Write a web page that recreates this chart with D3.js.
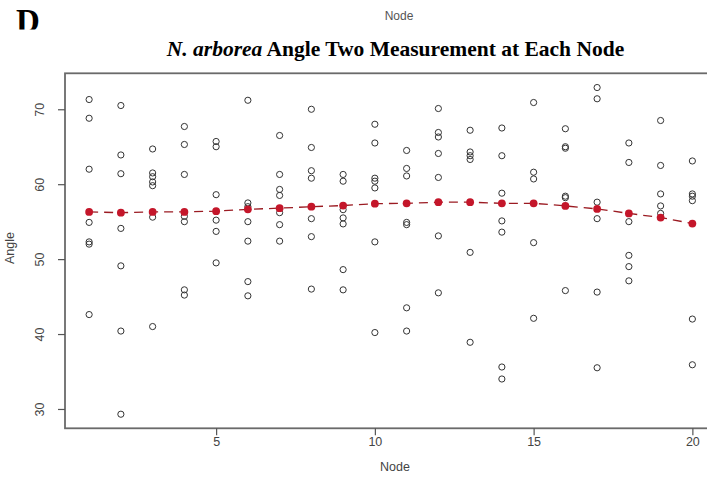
<!DOCTYPE html>
<html>
<head>
<meta charset="utf-8">
<script src="https://cdn.jsdelivr.net/npm/d3@7"></script>
<style>
  html, body { margin: 0; padding: 0; background: #fff; }
  svg { display: block; }
</style>
</head>
<body>
<svg id="chart" width="707" height="502"></svg>
<script>
// Node positions along the stem
const nodes = [1, 2, 3, 4, 5, 6, 7, 8, 9, 10, 11, 12, 13, 14, 15, 16, 17, 18, 19, 20];

// Angle two measurements recorded at each node (one list per node)
const anglesNode1  = [71.3, 68.8, 62.0, 54.9, 52.3, 52.0, 42.6];
const anglesNode2  = [70.5, 63.9, 61.4, 54.1, 49.1, 40.4, 29.3];
const anglesNode3  = [64.7, 61.5, 61.0, 60.3, 59.8, 55.6, 41.0];
const anglesNode4  = [67.7, 65.3, 61.3, 55.7, 55.0, 45.9, 45.2];
const anglesNode5  = [65.7, 65.0, 58.6, 55.2, 53.7, 49.5];
const anglesNode6  = [71.2, 57.5, 57.0, 55.0, 52.4, 47.0, 45.1];
const anglesNode7  = [66.5, 61.3, 59.3, 58.5, 56.2, 54.6, 52.4];
const anglesNode8  = [70.0, 64.9, 61.8, 60.8, 55.4, 53.0, 46.0];
const anglesNode9  = [61.3, 60.4, 56.6, 55.5, 54.7, 48.6, 45.9];
const anglesNode10 = [68.0, 65.5, 60.8, 60.4, 59.5, 52.3, 40.2];
const anglesNode11 = [64.5, 62.1, 61.1, 54.9, 54.6, 43.5, 40.4];
const anglesNode12 = [70.1, 66.9, 66.3, 64.1, 60.9, 53.1, 45.5];
const anglesNode13 = [67.2, 64.3, 63.8, 63.3, 50.9, 38.9];
const anglesNode14 = [67.5, 63.8, 58.8, 55.1, 53.6, 35.6, 34.0];
const anglesNode15 = [70.9, 61.6, 60.7, 52.2, 42.1];
const anglesNode16 = [67.4, 65.0, 64.8, 58.4, 58.2, 45.8];
const anglesNode17 = [72.9, 71.4, 57.6, 55.4, 45.6, 35.5];
const anglesNode18 = [65.5, 62.9, 55.0, 50.5, 49.0, 47.1];
const anglesNode19 = [68.5, 62.5, 58.7, 57.1, 56.1];
const anglesNode20 = [63.1, 58.7, 58.4, 57.8, 42.0, 35.9];

const anglesByNode = [
  anglesNode1, anglesNode2, anglesNode3, anglesNode4, anglesNode5,
  anglesNode6, anglesNode7, anglesNode8, anglesNode9, anglesNode10,
  anglesNode11, anglesNode12, anglesNode13, anglesNode14, anglesNode15,
  anglesNode16, anglesNode17, anglesNode18, anglesNode19, anglesNode20
];

// Fitted trend value at each node
const fitted = [56.3, 56.2, 56.3, 56.3, 56.4, 56.65, 56.8, 57.0, 57.15, 57.4,
                57.45, 57.6, 57.6, 57.45, 57.45, 57.1, 56.7, 56.1, 55.55, 54.75];

const xTicks = [5, 10, 15, 20];
const yTicks = [30, 40, 50, 60, 70];

const svg = d3.select("#chart");

// Plot region: the frame runs past the right edge of the page
const x = d3.scaleLinear().domain([0.24, 20.76]).range([65, 716.5]);
const y = d3.scaleLinear().domain([27.42, 74.8]).range([428.3, 73.3]);

// Panel letter, clipped at its lower edge
svg.append("defs").append("clipPath").attr("id", "letterClip")
  .append("rect").attr("x", 0).attr("y", 0).attr("width", 120).attr("height", 29.5);
svg.append("text")
  .attr("clip-path", "url(#letterClip)")
  .attr("x", 16).attr("y", 32)
  .attr("font-family", "'Liberation Serif', 'Times New Roman', serif")
  .attr("font-weight", "bold")
  .attr("font-size", 33)
  .attr("fill", "#000")
  .text("D");

// Faint axis label from the panel above
svg.append("text")
  .attr("x", 399).attr("y", 20)
  .attr("text-anchor", "middle")
  .attr("font-family", "'Liberation Sans', Arial, sans-serif")
  .attr("font-size", 12)
  .attr("fill", "#555")
  .text("Node");

// Title
const title = svg.append("text")
  .attr("x", 395.5).attr("y", 56)
  .attr("text-anchor", "middle")
  .attr("font-family", "'Liberation Serif', 'Times New Roman', serif")
  .attr("font-weight", "bold")
  .attr("font-size", 21.5)
  .attr("fill", "#000");
title.append("tspan").attr("font-style", "italic").text("N. arborea");
title.append("tspan").text(" Angle Two Measurement at Each Node");

// Frame
svg.append("rect")
  .attr("x", x.range()[0]).attr("y", y.range()[1])
  .attr("width", x.range()[1] - x.range()[0])
  .attr("height", y.range()[0] - y.range()[1])
  .attr("fill", "none")
  .attr("stroke", "#6a6a6a")
  .attr("stroke-width", 1.8);

// Axes
const xAxis = svg.append("g")
  .attr("transform", `translate(0,${y.range()[0]})`)
  .call(d3.axisBottom(x).tickValues(xTicks).tickSize(7).tickFormat(d3.format("d")));
const yAxis = svg.append("g")
  .attr("transform", `translate(${x.range()[0]},0)`)
  .call(d3.axisLeft(y).tickValues(yTicks).tickSize(7).tickFormat(d3.format("d")));

[xAxis, yAxis].forEach(g => {
  g.select(".domain").remove();
  g.selectAll(".tick line").attr("stroke", "#555").attr("stroke-width", 1.2);
  g.selectAll(".tick text")
    .attr("fill", "#444")
    .attr("font-family", "'Liberation Sans', Arial, sans-serif")
    .attr("font-size", 12.5);
});
xAxis.selectAll(".tick text").attr("dy", "0.71em").attr("y", 9);
// Y tick labels run parallel to the axis
yAxis.selectAll(".tick text")
  .attr("x", null).attr("dy", null)
  .attr("text-anchor", "middle")
  .attr("transform", "translate(-26,0) rotate(-90)")
  .attr("y", 4.5);

// Axis titles
svg.append("text")
  .attr("x", 395).attr("y", 471)
  .attr("text-anchor", "middle")
  .attr("font-family", "'Liberation Sans', Arial, sans-serif")
  .attr("font-size", 12.5)
  .attr("fill", "#444")
  .text("Node");
svg.append("text")
  .attr("transform", `translate(14,248) rotate(-90)`)
  .attr("text-anchor", "middle")
  .attr("font-family", "'Liberation Sans', Arial, sans-serif")
  .attr("font-size", 12.5)
  .attr("fill", "#444")
  .text("Angle");

// Individual measurements
const points = anglesByNode.flatMap((vals, i) => vals.map(v => ({ node: nodes[i], angle: v })));
svg.append("g").selectAll("circle")
  .data(points)
  .join("circle")
  .attr("cx", d => x(d.node))
  .attr("cy", d => y(d.angle))
  .attr("r", 3.1)
  .attr("fill", "none")
  .attr("stroke", "#333")
  .attr("stroke-width", 1);

// Fitted trend: dashed line with filled markers
const trend = nodes.map((n, i) => ({ node: n, angle: fitted[i] }));
svg.append("path")
  .datum(trend)
  .attr("fill", "none")
  .attr("stroke", "#9b1b22")
  .attr("stroke-width", 1.3)
  .attr("stroke-dasharray", "9,6")
  .attr("d", d3.line().x(d => x(d.node)).y(d => y(d.angle)));
svg.append("g").selectAll("circle")
  .data(trend)
  .join("circle")
  .attr("cx", d => x(d.node))
  .attr("cy", d => y(d.angle))
  .attr("r", 3.9)
  .attr("fill", "#c4162a");
</script>
</body>
</html>
